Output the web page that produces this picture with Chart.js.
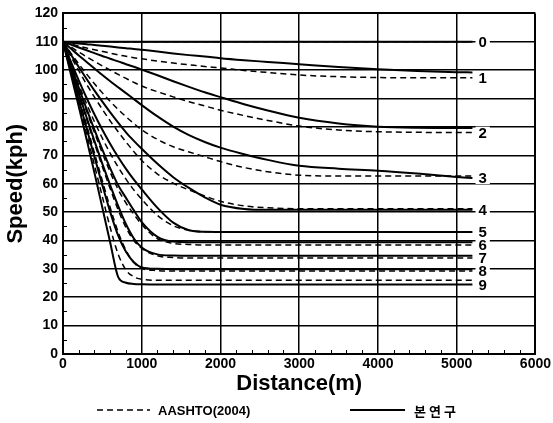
<!DOCTYPE html>
<html>
<head>
<meta charset="utf-8">
<script src="https://cdn.jsdelivr.net/npm/chart.js@4.4.1/dist/chart.umd.min.js"></script>
<style>
  html, body { margin: 0; padding: 0; background: #fff; }
  #wrap { width: 553px; height: 423px; }
</style>
</head>
<body>
<div id="wrap"><canvas id="chart" width="553" height="423"></canvas></div>
<script>
// Distance along the upgrade (m)
const distance = [0, 100, 200, 300, 400, 500, 600, 700, 800, 900, 1000, 1200, 1400, 1600, 1800, 2000, 2300, 2600, 3000, 3500, 4000, 4500, 5000, 5200];

// Speed profiles (kph), this study (solid)
const study0 = [110, 110, 110, 110, 110, 110, 110, 110, 110, 110, 110, 110, 110, 110, 110, 110, 110, 110, 110, 110, 110, 110, 110, 110];
const study1 = [110, 109.7, 109.4, 109.1, 108.9, 108.6, 108.3, 108.0, 107.7, 107.5, 107.2, 106.6, 105.9, 105.3, 104.8, 104.2, 103.5, 102.9, 102.1, 101.1, 100.3, 99.7, 99.3, 99.2];
const study2 = [110, 109.0, 108.0, 107.0, 106.0, 105.0, 104.0, 103.1, 102.1, 101.2, 100.2, 98.2, 96.1, 94.1, 92.2, 90.5, 88.0, 85.8, 83.2, 81.2, 80.1, 79.7, 79.6, 79.6];
const study3 = [110, 107.6, 105.2, 102.9, 100.6, 98.3, 96.1, 94.0, 91.9, 89.8, 87.7, 83.7, 80.1, 77.1, 74.7, 72.7, 70.4, 68.4, 66.3, 65.3, 64.6, 63.6, 62.4, 62.0];
const study4 = [110, 105.5, 101.1, 96.9, 92.8, 88.9, 85.1, 81.5, 78.1, 75.1, 72.3, 67.0, 62.3, 58.5, 55.2, 52.6, 51.1, 50.8, 50.8, 50.8, 50.8, 50.8, 50.8, 50.8];
const study5 = [110, 103.0, 96.4, 90.2, 84.4, 79.0, 74.0, 69.4, 65.2, 61.4, 58.0, 51.5, 46.3, 43.6, 43.05, 43.0, 43.0, 43.0, 43.0, 43.0, 43.0, 43.0, 43.0, 43.0];
const study6 = [110, 101.8, 93.9, 86.3, 79.0, 72.0, 65.4, 59.5, 55.0, 50.6, 46.5, 41.3, 39.6, 39.4, 39.4, 39.4, 39.4, 39.4, 39.4, 39.4, 39.4, 39.4, 39.4, 39.4];
const study7 = [110, 100.8, 91.9, 83.3, 75.0, 67.0, 59.4, 52.2, 45.7, 40.7, 37.5, 35.1, 34.7, 34.6, 34.6, 34.6, 34.6, 34.6, 34.6, 34.6, 34.6, 34.6, 34.6, 34.6];
const study8 = [110, 99.8, 89.6, 79.5, 69.4, 59.5, 50.0, 41.8, 36.0, 32.3, 30.5, 30.0, 29.9, 29.9, 29.9, 29.9, 29.9, 29.9, 29.9, 29.9, 29.9, 29.9, 29.9, 29.9];
const study9 = [110, 98.6, 87.2, 75.6, 63.8, 51.5, 39.2, 27.2, 25.1, 24.7, 24.6, 24.5, 24.5, 24.5, 24.5, 24.5, 24.5, 24.5, 24.5, 24.5, 24.5, 24.5, 24.5, 24.5];

// Speed profiles (kph), AASHTO (2004) (dashed)
const aashto0 = [110, 110, 110, 110, 110, 110, 110, 110, 110, 110, 110, 110, 110, 110, 110, 110, 110, 110, 110, 110, 110, 110, 110, 110];
const aashto1 = [110, 109.2, 108.5, 107.8, 107.2, 106.6, 106.0, 105.4, 104.9, 104.4, 104.0, 103.2, 102.5, 101.9, 101.3, 100.8, 99.9, 99.2, 98.3, 97.7, 97.4, 97.3, 97.3, 97.3];
const aashto2 = [110, 108.2, 106.4, 104.7, 103.1, 101.5, 100.0, 98.5, 97.1, 95.7, 94.4, 92.4, 90.6, 88.9, 87.4, 85.9, 84.0, 82.3, 80.3, 78.9, 78.3, 78.1, 78.0, 78.0];
const aashto3 = [110, 106.0, 102.2, 98.6, 95.2, 92.0, 89.0, 86.2, 83.6, 81.2, 79.0, 75.6, 73.0, 71.2, 69.5, 67.8, 65.7, 64.2, 63.0, 62.7, 62.7, 62.7, 62.7, 62.7];
const aashto4 = [110, 104.8, 99.8, 95.0, 90.5, 86.2, 82.1, 78.3, 74.7, 71.3, 68.2, 63.4, 60.2, 57.8, 55.7, 53.8, 52.2, 51.5, 51.2, 51.2, 51.2, 51.2, 51.2, 51.2];
const aashto5 = [110, 102.2, 94.9, 88.1, 81.8, 76.0, 70.7, 65.9, 61.6, 57.8, 54.5, 48.8, 45.2, 43.6, 43.1, 43.0, 43.0, 43.0, 43.0, 43.0, 43.0, 43.0, 43.0, 43.0];
const aashto6 = [110, 101.5, 93.3, 85.5, 78.0, 70.8, 64.0, 58.0, 53.2, 49.2, 45.6, 40.6, 39.0, 38.6, 38.4, 38.4, 38.4, 38.4, 38.4, 38.4, 38.4, 38.4, 38.4, 38.4];
const aashto7 = [110, 100.6, 91.5, 82.7, 74.2, 66.0, 58.2, 50.8, 44.5, 40.0, 37.2, 34.6, 34.0, 33.8, 33.8, 33.8, 33.8, 33.8, 33.8, 33.8, 33.8, 33.8, 33.8, 33.8];
const aashto8 = [110, 100.2, 90.4, 80.6, 70.8, 61.0, 51.5, 43.0, 36.5, 32.2, 30.2, 29.4, 29.2, 29.2, 29.2, 29.2, 29.2, 29.2, 29.2, 29.2, 29.2, 29.2, 29.2, 29.2];
const aashto9 = [110, 99.2, 88.4, 77.5, 66.5, 55.4, 44.5, 35.2, 29.6, 27.2, 26.3, 26.0, 26.0, 26.0, 26.0, 26.0, 26.0, 26.0, 26.0, 26.0, 26.0, 26.0, 26.0, 26.0];

// Grade numbers printed at the right end of each pair of curves
const gradeNames = ['0', '1', '2', '3', '4', '5', '6', '7', '8', '9'];

// Axis ticks
const xTicks = [0, 1000, 2000, 3000, 4000, 5000, 6000];
const yTicks = [0, 10, 20, 30, 40, 50, 60, 70, 80, 90, 100, 110, 120];

// Legend texts
const legendAashto = 'AASHTO(2004)';
const legendStudy = '본연구';

const studySeries = [study0, study1, study2, study3, study4, study5, study6, study7, study8, study9];
const aashtoSeries = [aashto0, aashto1, aashto2, aashto3, aashto4, aashto5, aashto6, aashto7, aashto8, aashto9];

const FONT = '"Liberation Sans", Arial, Helvetica, sans-serif';
const toPoints = arr => distance.map((d, i) => ({ x: d, y: arr[i] }));

const datasets = [];
aashtoSeries.forEach((s, i) => datasets.push({
  label: legendAashto + ' ' + gradeNames[i],
  data: toPoints(s),
  borderColor: '#000',
  borderWidth: 1.5,
  borderDash: [6, 4],
  pointRadius: 0,
  cubicInterpolationMode: 'monotone',
  fill: false
}));
studySeries.forEach((s, i) => datasets.push({
  label: legendStudy + ' ' + gradeNames[i],
  data: toPoints(s),
  borderColor: '#000',
  borderWidth: 2,
  pointRadius: 0,
  cubicInterpolationMode: 'monotone',
  fill: false
}));

// Grade numbers, minor ticks and the legend row
const decorations = {
  id: 'decorations',
  afterDatasetsDraw(chart) {
    const { ctx, scales: { x, y } } = chart;
    ctx.save();
    ctx.font = 'bold 15px ' + FONT;
    ctx.textAlign = 'center';
    ctx.textBaseline = 'middle';
    const spots = gradeNames.map((g, i) => {
      const v = Math.min(studySeries[i][studySeries[i].length - 1], aashtoSeries[i][aashtoSeries[i].length - 1]);
      return { g, px: x.getPixelForValue(5330), py: y.getPixelForValue(v) };
    });
    ctx.fillStyle = '#fff';
    spots.forEach(s => {
      const w = ctx.measureText(s.g).width;
      ctx.fillRect(s.px - w / 2 - 3, s.py - 6, w + 6, 12);
    });
    ctx.fillStyle = '#000';
    spots.forEach(s => ctx.fillText(s.g, s.px, s.py + 1));
    ctx.restore();
  },
  afterDraw(chart) {
    const { ctx, chartArea: a, scales: { x, y } } = chart;
    ctx.save();
    ctx.strokeStyle = '#000';
    ctx.lineWidth = 1;
    ctx.beginPath();
    for (let d = 200; d < 6000; d += 200) {
      if (d % 1000 === 0) continue;
      const px = Math.round(x.getPixelForValue(d)) + 0.5;
      ctx.moveTo(px, a.bottom);
      ctx.lineTo(px, a.bottom - 4);
    }
    for (let v = 5; v < 120; v += 10) {
      const py = Math.round(y.getPixelForValue(v)) + 0.5;
      ctx.moveTo(a.left, py);
      ctx.lineTo(a.left + 4, py);
    }
    ctx.stroke();

    // legend
    const ly = 410;
    ctx.lineWidth = 1.5;
    ctx.setLineDash([6, 4]);
    ctx.beginPath();
    ctx.moveTo(97, ly);
    ctx.lineTo(150, ly);
    ctx.stroke();
    ctx.setLineDash([]);
    ctx.lineWidth = 2;
    ctx.beginPath();
    ctx.moveTo(350, ly);
    ctx.lineTo(405, ly);
    ctx.stroke();
    ctx.fillStyle = '#000';
    ctx.textBaseline = 'middle';
    ctx.textAlign = 'left';
    ctx.font = 'bold 13px ' + FONT;
    ctx.fillText(legendAashto, 158, ly + 1);
    ctx.font = 'bold 13px "Noto Sans CJK KR", sans-serif';
    ctx.letterSpacing = '3px';
    ctx.fillText(legendStudy, 414, ly + 1);
    ctx.restore();
  }
};

const edgeWidth = (ctx) => (ctx.index === 0 || ctx.index === ctx.chart.scales[ctx.scale.id].ticks.length - 1) ? 2 : 1.5;

new Chart(document.getElementById('chart'), {
  type: 'line',
  data: { datasets },
  options: {
    responsive: false,
    animation: false,
    devicePixelRatio: 1,
    layout: { padding: { left: 0, right: 17, top: 13, bottom: 26 } },
    plugins: { legend: { display: false }, tooltip: { enabled: false } },
    scales: {
      x: {
        type: 'linear',
        min: 0,
        max: 6000,
        afterBuildTicks: s => { s.ticks = xTicks.map(v => ({ value: v })); },
        afterFit: s => { s.height = 43; },
        ticks: {
          color: '#000',
          font: { family: FONT, size: 14, weight: 'bold' },
          padding: 2,
          maxRotation: 0,
          callback: v => String(v)
        },
        grid: { color: '#000', lineWidth: edgeWidth, drawTicks: false },
        border: { display: true, color: '#000', width: 2 },
        title: {
          display: true,
          text: 'Distance(m)',
          color: '#000',
          font: { family: FONT, size: 22, weight: 'bold' },
          padding: { top: 0, bottom: 0 }
        }
      },
      y: {
        min: 0,
        max: 120,
        afterBuildTicks: s => { s.ticks = yTicks.map(v => ({ value: v })); },
        afterFit: s => { s.width = 63; },
        ticks: {
          color: '#000',
          font: { family: FONT, size: 14, weight: 'bold' },
          padding: 5
        },
        grid: { color: '#000', lineWidth: edgeWidth, drawTicks: false },
        border: { display: true, color: '#000', width: 2 },
        title: {
          display: true,
          text: 'Speed(kph)',
          color: '#000',
          font: { family: FONT, size: 22, weight: 'bold' },
          padding: { top: 3, bottom: 0 }
        }
      }
    }
  },
  plugins: [decorations]
});
</script>
</body>
</html>
